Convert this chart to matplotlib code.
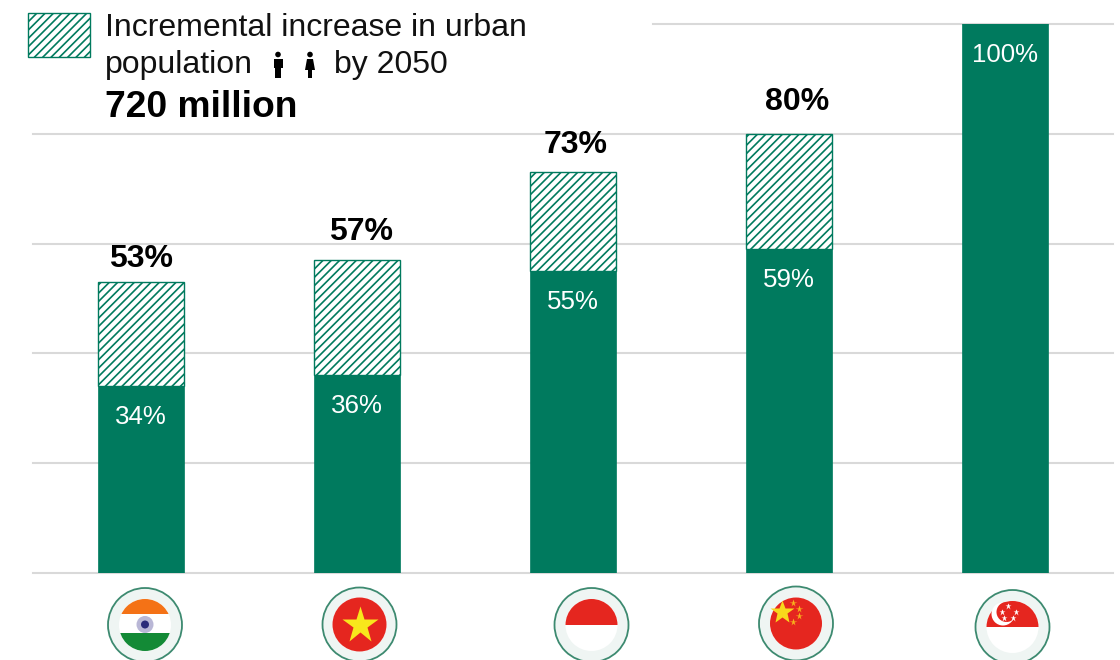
# Urban population share by country, today vs 2050
import matplotlib
matplotlib.use('Agg')
import matplotlib.pyplot as plt
from matplotlib.patches import Circle, Rectangle, Polygon

plt.rcParams['font.family'] = ['Liberation Sans', 'DejaVu Sans']
plt.rcParams['hatch.linewidth'] = 1.2
plt.rcParams['hatch.color'] = '#007A5E'

countries = ['India', 'Vietnam', 'Indonesia', 'China', 'Singapore']
urban_now = [34, 36, 55, 59, 100]
urban_2050 = [53, 57, 73, 80, 100]
grid_ticks = [0, 20, 40, 60, 80]

GREEN = '#007A5E'
GRID = '#D9D9D9'
HATCH = '////'

fig = plt.figure(figsize=(11.2, 6.6), dpi=100)

# chart area, 33..1113 px across and 24..573 px down
ax = fig.add_axes([33 / 1120, 1 - 573 / 660, 1080 / 1120, 549 / 660])
ax.set_xlim(-0.5, 4.5)
ax.set_ylim(0, 100)
ax.axis('off')

for t in grid_ticks:
    ax.axhline(t, color=GRID, lw=1.5, zorder=1, clip_on=False)
ax.plot([(653 - 33) / 216 - 0.5, 4.5], [100, 100], color=GRID, lw=1.5, zorder=1, clip_on=False)

x_pos = range(len(countries))
ax.bar(x_pos, urban_now, width=0.4, color=GREEN, edgecolor=GREEN, lw=0.5, zorder=3)
increase = [b - a for a, b in zip(urban_now, urban_2050)]
ax.bar(x_pos, increase, bottom=urban_now, width=0.4, facecolor='white', edgecolor=GREEN,
       lw=1.0, hatch=HATCH, zorder=3)

# white share inside each solid bar
for i, v in enumerate(urban_now):
    ax.annotate(f'{v}%', (i, v), xytext=(0, -38 * 0.72), textcoords='offset points',
                ha='center', va='baseline', color='white', fontsize=18.6, zorder=5)

# bold 2050 share above each hatched bar, Singapore has none
top_gap = [15, 20, 19, 24]
top_shift = [0, 4, 3, 8]
for i, v in enumerate(urban_2050[:4]):
    ax.annotate(f'{v}%', (i, v), xytext=(top_shift[i] * 0.72, top_gap[i] * 0.72),
                textcoords='offset points', ha='center', va='baseline',
                fontsize=23, fontweight='bold', color='black', zorder=5)

# overlay in pixel units for legend and flags
ov = fig.add_axes([0, 0, 1, 1])
ov.set_xlim(0, 1120)
ov.set_ylim(660, 0)
ov.axis('off')
ov.patch.set_alpha(0)

ov.add_patch(Rectangle((27.5, 12.5), 62, 44, facecolor='white', edgecolor=GREEN, lw=1.0, hatch=HATCH))
ov.text(105, 36, 'Incremental increase in urban', fontsize=23, va='baseline', ha='left', color='#111111')
ov.text(105, 73, 'population', fontsize=23, va='baseline', ha='left', color='#111111')
ov.text(334, 73, 'by 2050', fontsize=23, va='baseline', ha='left', color='#111111')
ov.text(105, 117, '720 million', fontsize=26.8, fontweight='bold', va='baseline', ha='left', color='black')


def person(cx, female=False):
    ov.add_patch(Circle((cx, 54.5), 2.8, color='black', lw=0))
    if female:
        ov.add_patch(Polygon([(cx - 3, 59), (cx + 3, 59), (cx + 5, 70), (cx - 5, 70)], color='black', lw=0))
        ov.add_patch(Rectangle((cx - 2.4, 70), 4.8, 8, color='black', lw=0))
    else:
        ov.add_patch(Rectangle((cx - 4.5, 59), 9, 9, color='black', lw=0))
        ov.add_patch(Rectangle((cx - 2.8, 67), 5.6, 11, color='black', lw=0))


person(278)
person(310, female=True)


def badge(cx, cy, r=26):
    ov.add_patch(Circle((cx, cy), 37, facecolor='#EFF5F3', edgecolor='#3D8A70', lw=1.3, zorder=2))
    base = Circle((cx, cy), r, facecolor='white', edgecolor='none', zorder=3)
    ov.add_patch(base)
    return base


def clip_band(x, y, w, h, color, disc, z=4):
    p = Rectangle((x, y), w, h, facecolor=color, edgecolor='none', zorder=z)
    ov.add_patch(p)
    p.set_clip_path(disc)


# India
c = badge(145, 625)
clip_band(110, 595, 70, 19, '#F47216', c)
clip_band(110, 633, 70, 22, '#138A36', c)
ov.add_patch(Circle((145, 624.5), 8.5, facecolor='#B9B7D6', edgecolor='none', zorder=5))
ov.add_patch(Circle((145, 624.5), 4, facecolor='#2A2A7A', edgecolor='none', zorder=6))

# Vietnam
badge(359.5, 624.5, 27)
ov.add_patch(Circle((359.5, 624.5), 27, facecolor='#E5261F', edgecolor='none', zorder=4))
ov.plot(359.5, 625, marker='*', ms=28, color='#F8E71C', mec='none', zorder=5)

# Indonesia
c = badge(591.5, 625)
clip_band(560, 595, 65, 30, '#E5261F', c)

# China
badge(796, 623.5)
ov.add_patch(Circle((796, 623.5), 26, facecolor='#E5261F', edgecolor='none', zorder=4))
ov.plot(781.5, 611.5, marker='*', ms=18, color='#F8D81C', mec='none', zorder=5)
for sx, sy in [(793, 603), (799, 609), (799, 616), (793, 622)]:
    ov.plot(sx, sy, marker='*', ms=5.5, color='#F8B41C', mec='none', zorder=5)

# Singapore
c = badge(1012.5, 627)
clip_band(980, 597, 65, 30, '#E5261F', c)
ov.add_patch(Circle((1003, 614), 11.5, facecolor='white', edgecolor='none', zorder=5))
ov.add_patch(Circle((1006.5, 612), 10, facecolor='#E5261F', edgecolor='none', zorder=6))
for sx, sy in [(1008, 606), (1016, 612), (1013, 618), (1004, 618), (1001.5, 612)]:
    ov.plot(sx, sy, marker='*', ms=5, color='white', mec='none', zorder=7)

fig.savefig('out.png', dpi=100)
